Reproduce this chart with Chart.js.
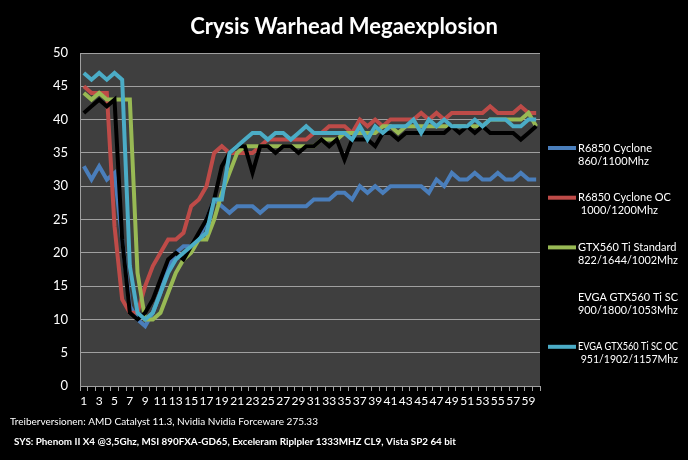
<!DOCTYPE html>
<html>
<head>
<meta charset="utf-8">
<script src="https://cdn.jsdelivr.net/npm/chart.js@4.4.0/dist/chart.umd.min.js"></script>
<style>
  html, body { margin: 0; padding: 0; background: #000; }
</style>
</head>
<body>
<canvas id="chart" width="688" height="460"></canvas>
<script>
// frame numbers 1..60 along the x axis
var frames = Array.from({ length: 60 }, function (v, i) { return String(i + 1); });

var yTicks = [0, 5, 10, 15, 20, 25, 30, 35, 40, 45, 50];

var r6850 = [33, 31, 33, 31, 32, 22, 12, 10, 9, 11, 14, 18, 20, 21, 21, 22, 25, 28, 27, 26,
  27, 27, 27, 26, 27, 27, 27, 27, 27, 27, 28, 28, 28, 29, 29, 28, 30, 29, 30, 29,
  30, 30, 30, 30, 30, 29, 31, 30, 32, 31, 31, 32, 31, 31, 32, 31, 31, 32, 31, 31];

var r6850oc = [45, 44, 44, 44, 24, 13, 11, 11, 15, 18, 20, 22, 22, 23, 27, 28, 30, 35, 36, 35,
  35, 35, 35, 36, 37, 37, 37, 37, 37, 37, 38, 38, 39, 39, 39, 38, 40, 39, 40, 39,
  40, 40, 40, 40, 41, 40, 41, 40, 41, 41, 41, 41, 41, 42, 41, 41, 41, 42, 41, 41];

var gtx560 = [44, 43, 44, 43, 43, 43, 43, 17, 10, 10, 11, 14, 17, 19, 20, 22, 22, 25, 29, 32,
  35, 36, 36, 36, 36, 36, 36, 36, 36, 36, 36, 37, 37, 37, 38, 38, 38, 38, 38, 39,
  39, 38, 39, 39, 39, 39, 39, 39, 39, 39, 39, 39, 39, 40, 40, 40, 40, 40, 41, 39];

var evgaSC = [41, 42, 43, 42, 43, 22, 11, 10, 11, 13, 16, 19, 20, 19, 21, 23, 25, 28, 33, 35,
  36, 36, 32, 36, 36, 35, 36, 36, 35, 36, 36, 37, 36, 37, 34, 37, 37, 37, 36, 38,
  38, 37, 38, 38, 38, 38, 38, 38, 39, 38, 39, 38, 39, 38, 38, 38, 38, 37, 38, 39];

var evgaSCOC = [47, 46, 47, 46, 47, 46, 18, 11, 10, 11, 14, 17, 19, 20, 21, 22, 23, 28, 28, 35,
  36, 37, 38, 38, 37, 38, 38, 37, 38, 39, 38, 38, 38, 38, 38, 37, 39, 37, 39, 38,
  39, 39, 39, 40, 38, 40, 39, 40, 39, 39, 39, 40, 39, 40, 40, 40, 39, 39, 40, 40];

var seriesNames = [
  ['R6850 Cyclone', '860/1100Mhz'],
  ['R6850 Cyclone OC', ' 1000/1200Mhz'],
  ['GTX560 Ti Standard', '822/1644/1002Mhz'],
  ['EVGA GTX560 Ti SC', '900/1800/1053Mhz'],
  ['EVGA GTX560 Ti SC OC', ' 951/1902/1157Mhz']
];
var seriesData = [r6850, r6850oc, gtx560, evgaSC, evgaSCOC];
var seriesColors = ['#4a7ebb', '#be4b48', '#98b954', '#000000', '#4bacc6'];

var chartTitle = 'Crysis Warhead Megaexplosion';
var footnotes = [
  'Treiberversionen: AMD Catalyst 11.3, Nvidia Nvidia Forceware 275.33',
  'SYS: Phenom II X4 @3,5Ghz, MSI 890FXA-GD65, Exceleram Riplpler 1333MHZ CL9, Vista SP2 64 bit'
];

var datasets = [];
for (var i = 0; i < seriesData.length; i++) {
  datasets.push({
    label: seriesNames[i].join(' '),
    data: seriesData[i],
    borderColor: seriesColors[i],
    backgroundColor: seriesColors[i],
    borderWidth: 4,
    pointRadius: 0,
    tension: 0,
    // excel draws the later series on top
    order: seriesData.length - i
  });
}

// gray plot area behind the lines
var plotBackground = {
  id: 'plotBackground',
  beforeDraw: function (chart) {
    var a = chart.chartArea;
    var ctx = chart.ctx;
    ctx.save();
    ctx.fillStyle = '#3f3f3f';
    ctx.fillRect(a.left, a.top, a.right - a.left, a.bottom - a.top);
    ctx.restore();
  }
};

// title over the whole picture, two line legend on the right, notes at the bottom
var extras = {
  id: 'extras',
  afterDraw: function (chart) {
    var ctx = chart.ctx;
    ctx.save();
    ctx.fillStyle = '#ffffff';
    ctx.textBaseline = 'middle';

    ctx.textAlign = 'center';
    ctx.font = 'bold 22px Lato';
    ctx.fillText(chartTitle, chart.width / 2, 27, 308);

    ctx.textAlign = 'left';
    for (var i = 0; i < chart.data.datasets.length; i++) {
      var ds = chart.data.datasets[i];
      var y = 148 + i * 49.7;
      ctx.strokeStyle = ds.borderColor;
      ctx.lineWidth = 4;
      ctx.beginPath();
      ctx.moveTo(548, y);
      ctx.lineTo(576, y);
      ctx.stroke();
      ctx.font = '11px Lato';
      ctx.fillText(seriesNames[i][0], 578, y, 100);
      ctx.fillText(seriesNames[i][1], 578, y + 13, 100);
    }

    ctx.font = '10px Lato';
    ctx.fillText(footnotes[0], 10, 422, 308);
    ctx.font = 'bold 10px Lato';
    ctx.fillText(footnotes[1], 14, 442, 442);
    ctx.restore();
  }
};

new Chart(document.getElementById('chart'), {
  type: 'line',
  data: { labels: frames, datasets: datasets },
  plugins: [plotBackground, extras],
  options: {
    responsive: false,
    animation: false,
    devicePixelRatio: 1,
    layout: { padding: { left: 0, right: 148, top: 53, bottom: 54 } },
    plugins: {
      legend: { display: false },
      tooltip: { enabled: false },
      title: { display: false }
    },
    scales: {
      x: {
        offset: true,
        afterFit: function (s) { s.height = 20; },
        grid: { offset: true, drawOnChartArea: false, color: '#a0a0a0', tickLength: 5 },
        border: { color: '#a0a0a0' },
        ticks: {
          autoSkip: false,
          maxRotation: 0,
          minRotation: 0,
          padding: 3,
          color: '#ffffff',
          font: { family: 'Lato', size: 12 },
          callback: function (v, i) { return i % 2 === 0 ? frames[i] : ''; }
        }
      },
      y: {
        min: yTicks[0],
        max: yTicks[yTicks.length - 1],
        afterFit: function (s) { s.width = 80; },
        afterBuildTicks: function (s) { s.ticks = yTicks.map(function (v) { return { value: v }; }); },
        grid: { color: '#a0a0a0', drawTicks: false },
        border: { color: '#a0a0a0' },
        ticks: {
          padding: 12,
          color: '#ffffff',
          font: { family: 'Lato', size: 13 }
        }
      }
    }
  }
});
</script>
</body>
</html>
